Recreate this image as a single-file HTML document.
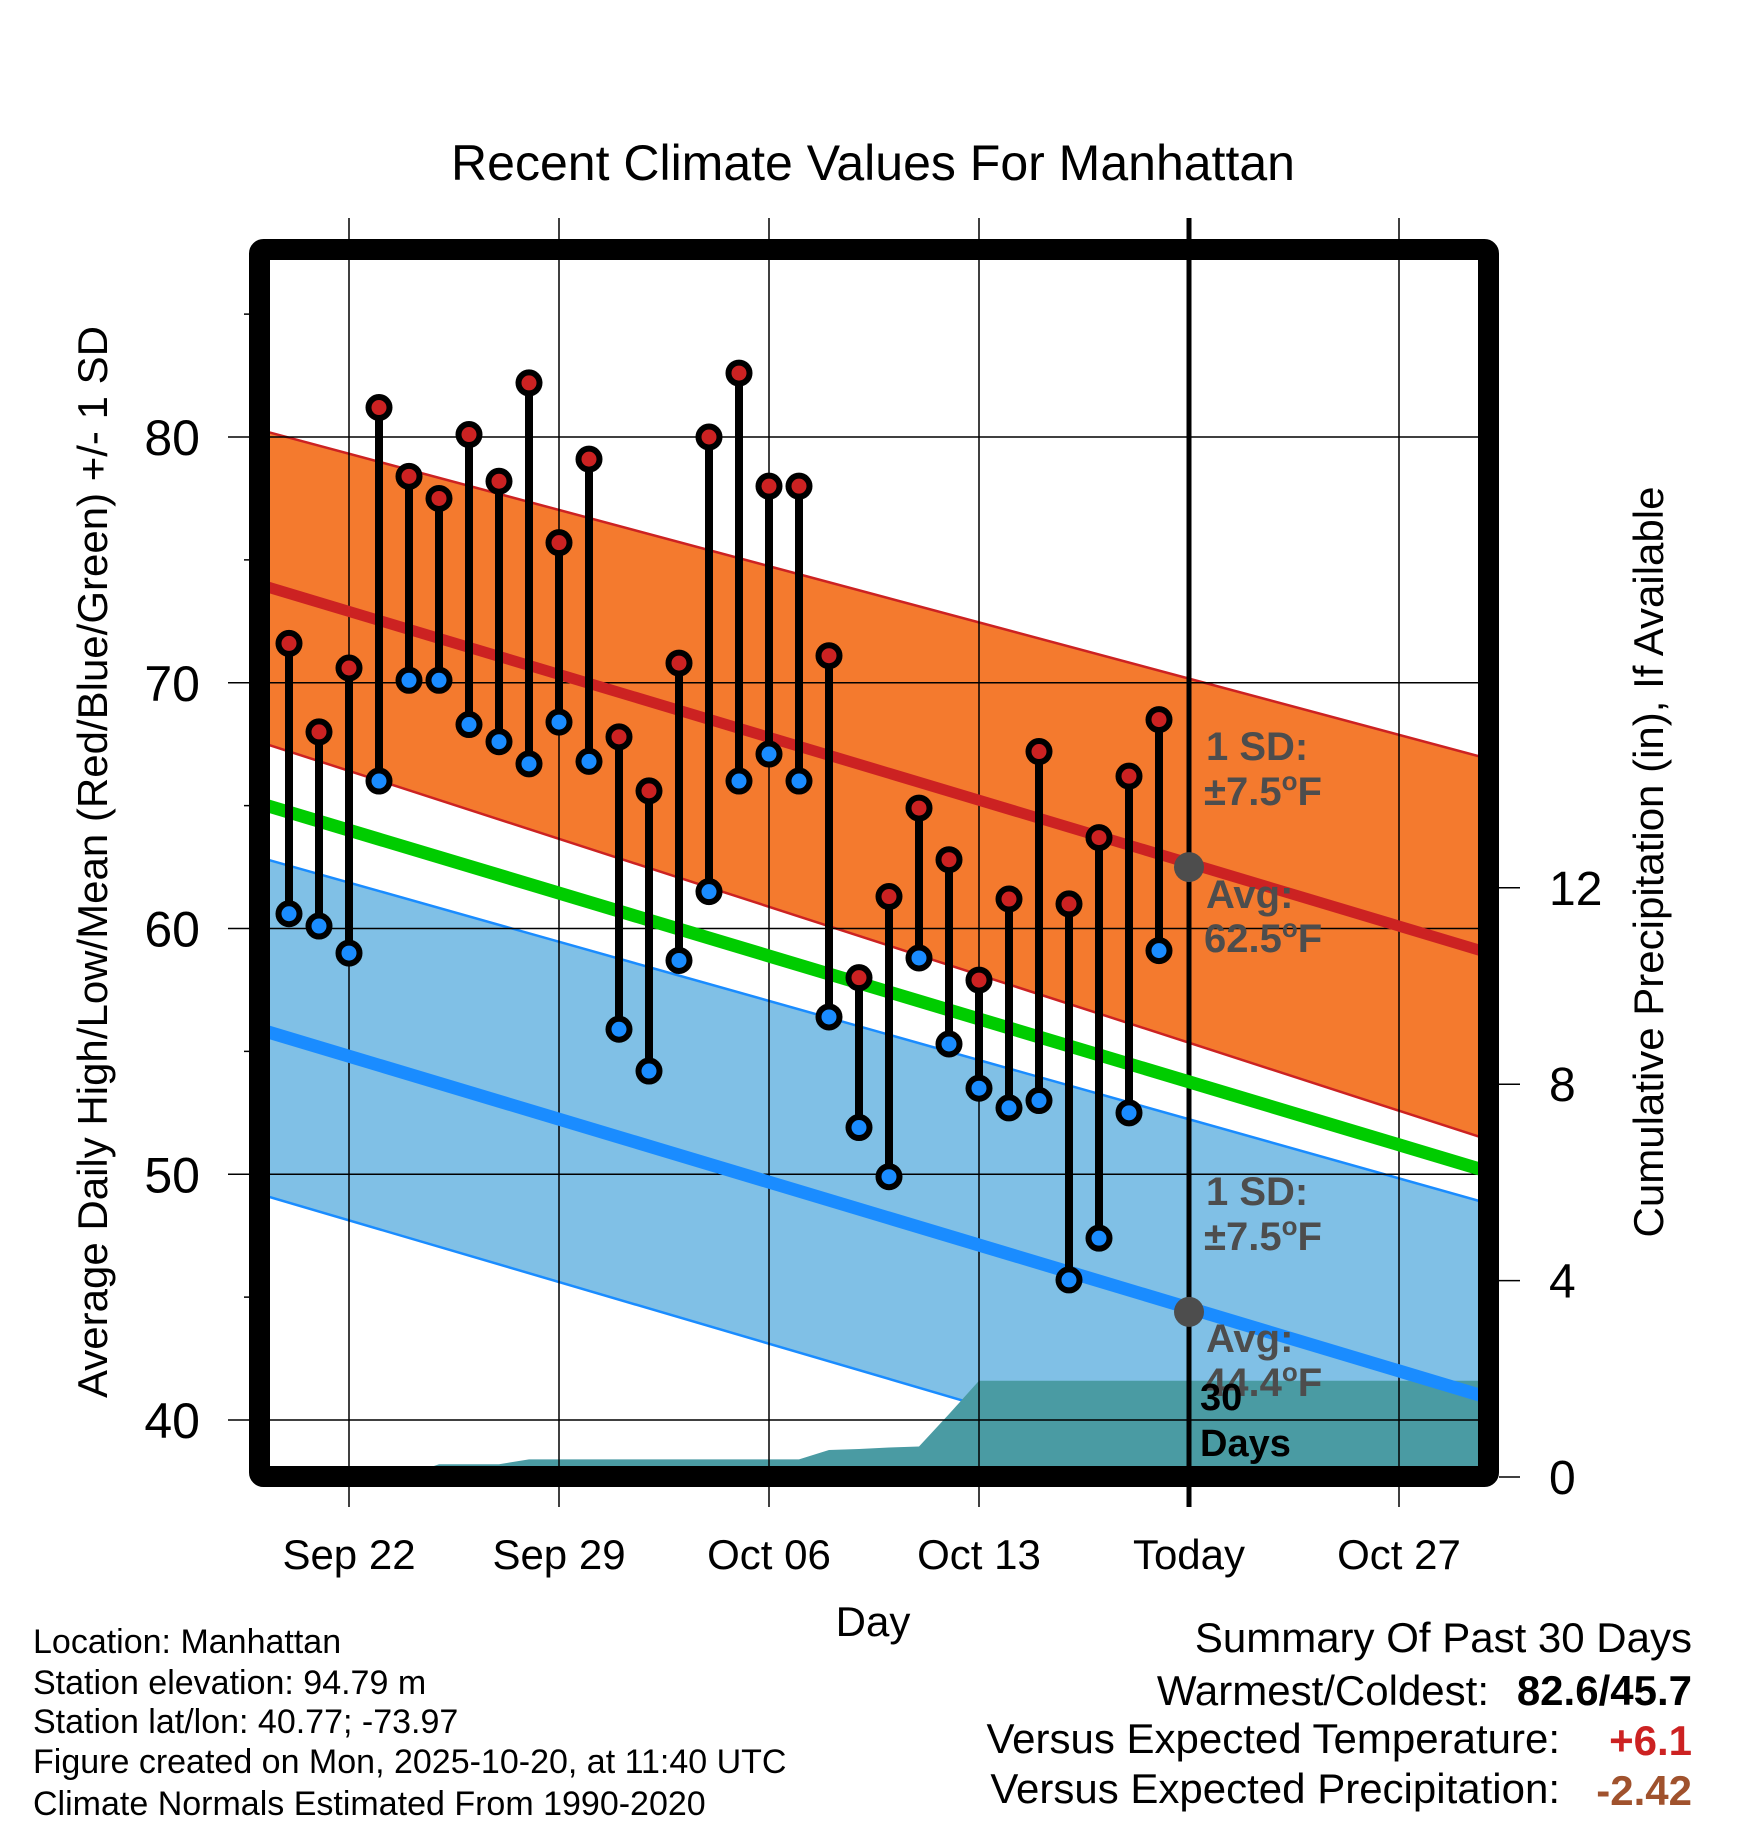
<!DOCTYPE html>
<html><head><meta charset="utf-8"><style>
html,body{margin:0;padding:0;background:#fff;}
svg{display:block;font-family:"Liberation Sans",sans-serif;}
</style></head><body>
<svg id="chart" width="1748" height="1828" viewBox="0 0 1748 1828" xmlns="http://www.w3.org/2000/svg">
<g id="bands"></g>
<g id="precip"></g>
<g id="grid"></g>
<g id="normals"></g>
<g id="marks"></g>
<g id="axes"></g>
<text x="873" y="180" font-size="50" text-anchor="middle">Recent Climate Values For Manhattan</text>
<text transform="translate(107,862) rotate(-90)" font-size="42" text-anchor="middle">Average Daily High/Low/Mean (Red/Blue/Green) +/- 1 SD</text>
<text transform="translate(1663,862) rotate(-90)" font-size="42" text-anchor="middle">Cumulative Precipitation (in), If Available</text>
<text x="873" y="1636" font-size="42" text-anchor="middle">Day</text>
<g font-size="34">
<text x="33" y="1653">Location: Manhattan</text>
<text x="33" y="1694">Station elevation: 94.79 m</text>
<text x="33" y="1733">Station lat/lon: 40.77; -73.97</text>
<text x="33" y="1773">Figure created on Mon, 2025-10-20, at 11:40 UTC</text>
<text x="33" y="1815">Climate Normals Estimated From 1990-2020</text>
</g>
<g font-size="42">
<text x="1692" y="1652" text-anchor="end">Summary Of Past 30 Days</text>
<text x="1489" y="1705" text-anchor="end">Warmest/Coldest:</text>
<text x="1692" y="1705" text-anchor="end" font-weight="bold">82.6/45.7</text>
<text x="1560" y="1753" text-anchor="end">Versus Expected Temperature:</text>
<text x="1692" y="1755" text-anchor="end" font-weight="bold" fill="#cc2222">+6.1</text>
<text x="1560" y="1803" text-anchor="end">Versus Expected Precipitation:</text>
<text x="1692" y="1805" text-anchor="end" font-weight="bold" fill="#a0522d">-2.42</text>
</g>
</svg>
<script>
// day index 0 = Sep 22
const days = [-2,-1,0,1,2,3,4,5,6,7,8,9,10,11,12,13,14,15,16,17,18,19,20,21,22,23,24,25,26,27];
const highs = [71.6,68.0,70.6,81.2,78.4,77.5,80.1,78.2,82.2,75.7,79.1,67.8,65.6,70.8,80.0,82.6,78.0,78.0,71.1,58.0,61.3,64.9,62.8,57.9,61.2,67.2,61.0,63.7,66.2,68.5];
const lows = [60.6,60.1,59.0,66.0,70.1,70.1,68.3,67.6,66.7,68.4,66.8,55.9,54.2,58.7,61.5,66.0,67.1,66.0,56.4,51.9,49.9,58.8,55.3,53.5,52.7,53.0,45.7,47.4,52.5,59.1];
const precip = [0,0,0,0,0.05,0.26,0.26,0.26,0.36,0.36,0.36,0.36,0.36,0.36,0.36,0.36,0.36,0.36,0.55,0.57,0.6,0.62,1.28,1.96,1.96,1.96,1.96,1.96,1.96,1.96];
// normals at left edge (day -3) and right edge (day 38)
const normalDays = [-3,38];
const highAvg = [74.0,59.0];
const highUp = [80.3,66.9];
const highLo = [67.6,51.4];
const meanAvg = [65.1,50.1];
const lowAvg = [55.9,40.9];
const lowUp = [62.9,48.8];
const lowLo = [49.2,34.5];
const xTickDays = [0,7,14,21,28,35];
const xTickLabels = ["Sep 22","Sep 29","Oct 06","Oct 13","Today","Oct 27"];
const yTicks = [40,50,60,70,80];
const yMinor = [45,55,65,75,85];
const y2Ticks = [0,4,8,12];
const todayDay = 28;
const todayHighAvg = 62.5, todayLowAvg = 44.4;

const L=259.5,R=1488.5,T=249.5,B=1476.5;
const x = d => 349 + d*30;
const y = v => 437 + (80 - v)*24.575;
const y2 = p => 1477 - p*49.1;
const NS="http://www.w3.org/2000/svg";
function mk(tag, attrs, parent){const e=document.createElementNS(NS,tag);for(const k in attrs)e.setAttribute(k,attrs[k]);parent.appendChild(e);return e;}
const bands=document.getElementById('bands'),pg=document.getElementById('precip'),grid=document.getElementById('grid'),nm=document.getElementById('normals'),marks=document.getElementById('marks'),axes=document.getElementById('axes');
const defs=mk('defs',{},document.getElementById('chart'));
const cp=mk('clipPath',{id:'plotclip'},defs);mk('rect',{x:L,y:T,width:R-L,height:B-T},cp);
[bands,pg,nm].forEach(g=>g.setAttribute('clip-path','url(#plotclip)'));
function band(up,lo,fill,edge,name){
  const p=mk('polygon',{points:`${x(normalDays[0])},${y(up[0])} ${x(normalDays[1])},${y(up[1])} ${x(normalDays[1])},${y(lo[1])} ${x(normalDays[0])},${y(lo[0])}`,fill:fill},bands);
  
  
  [up,lo].forEach(a=>{const l=mk('line',{x1:x(normalDays[0]),y1:y(a[0]),x2:x(normalDays[1]),y2:y(a[1]),stroke:edge,'stroke-width':2.5},bands);
  
  });
}
band(lowUp,lowLo,'#80c0e6','#1a8cff','low-sd-band');
band(highUp,highLo,'#f47a2e','#cc2222','high-sd-band');
// precip
let pts=`${x(days[0])},${y2(0)} `;
days.forEach((d,i)=>{pts+=`${x(d)},${y2(precip[i])} `;});
pts+=`${R},${y2(precip[precip.length-1])} ${R},${B} ${L},${B} ${L},${y2(0)}`;
const pa=mk('polygon',{points:pts,fill:'#4a9ba3'},pg);


// grid
yTicks.forEach(v=>{const l=mk('line',{x1:228,y1:y(v),x2:R,y2:y(v),stroke:'#000','stroke-width':1.5},grid);

});
xTickDays.forEach((d,i)=>{const l=mk('line',{x1:x(d),y1:218,x2:x(d),y2:1507,stroke:'#000','stroke-width':d===todayDay?5:1.5},grid);

});
// normal lines
function nline(a,col,w,name){const l=mk('line',{x1:x(normalDays[0]),y1:y(a[0]),x2:x(normalDays[1]),y2:y(a[1]),stroke:col,'stroke-width':w},nm);

}
nline(highAvg,'#cc2222',11,'high-avg-line');
nline(meanAvg,'#00cc00',13,'mean-avg-line');
nline(lowAvg,'#1a8cff',13,'low-avg-line');
// marks
days.forEach((d,i)=>{
  const s=mk('line',{x1:x(d),y1:y(highs[i]),x2:x(d),y2:y(lows[i]),stroke:'#000','stroke-width':8},marks);
  
  
  const h=mk('circle',{cx:x(d),cy:y(highs[i]),r:10.5,fill:'#cc2222',stroke:'#000','stroke-width':6},marks);
  
  
  const lo=mk('circle',{cx:x(d),cy:y(lows[i]),r:10.5,fill:'#1a8cff',stroke:'#000','stroke-width':6},marks);
  
  
});
[todayHighAvg,todayLowAvg].forEach(v=>{const c=mk('circle',{cx:x(todayDay),cy:y(v),r:15,fill:'#4d4d4d'},marks);

});
// annotations
function ann(parts,xx,yy,col,name,fs){const t=mk('text',{x:xx,y:yy,'font-size':fs||40,'font-weight':'bold',fill:col},marks);
parts.forEach(p=>{if(typeof p==='string'){t.appendChild(document.createTextNode(p));}else{const s=mk('tspan',{'baseline-shift':'super','font-size':26},t);s.textContent=p[0];}});

}
ann(['1 SD:'],1206,760,'#4d4d4d','high-sd-label');
ann(['\u00b17.5',['o'],'F'],1204,805,'#4d4d4d','high-sd-value');
ann(['Avg:'],1206,908,'#4d4d4d','high-avg-label');
ann([todayHighAvg.toFixed(1),['o'],'F'],1204,952,'#4d4d4d','high-avg-value');
ann(['1 SD:'],1206,1205,'#4d4d4d','low-sd-label');
ann(['\u00b17.5',['o'],'F'],1204,1250,'#4d4d4d','low-sd-value');
ann(['Avg:'],1206,1352,'#4d4d4d','low-avg-label');
ann([todayLowAvg.toFixed(1),['o'],'F'],1204,1396,'#4d4d4d','low-avg-value');
ann(['30'],1200,1410,'#000','days-count',38);
ann(['Days'],1200,1456,'#000','days-label',38);
// frame
const fr=mk('rect',{x:L,y:T,width:R-L,height:B-T,fill:'none',stroke:'#000','stroke-width':21,rx:4},axes);


yTicks.forEach(v=>{const t=mk('text',{x:200,y:y(v)+18,'font-size':50,'text-anchor':'end'},axes);t.textContent=v;

});
yMinor.forEach(v=>{const l=mk('line',{x1:244,y1:y(v),x2:250,y2:y(v),stroke:'#000','stroke-width':1.5},axes);

});
y2Ticks.forEach(p=>{const l=mk('line',{x1:1499,y1:y2(p),x2:1520,y2:y2(p),stroke:'#000','stroke-width':1.5},axes);


const t=mk('text',{x:1549,y:y2(p)+17,'font-size':48,'text-anchor':'start'},axes);t.textContent=p;

});
xTickDays.forEach((d,i)=>{const t=mk('text',{x:x(d),y:1569,'font-size':42,'text-anchor':'middle'},axes);t.textContent=xTickLabels[i];

});
</script>
</body></html>
